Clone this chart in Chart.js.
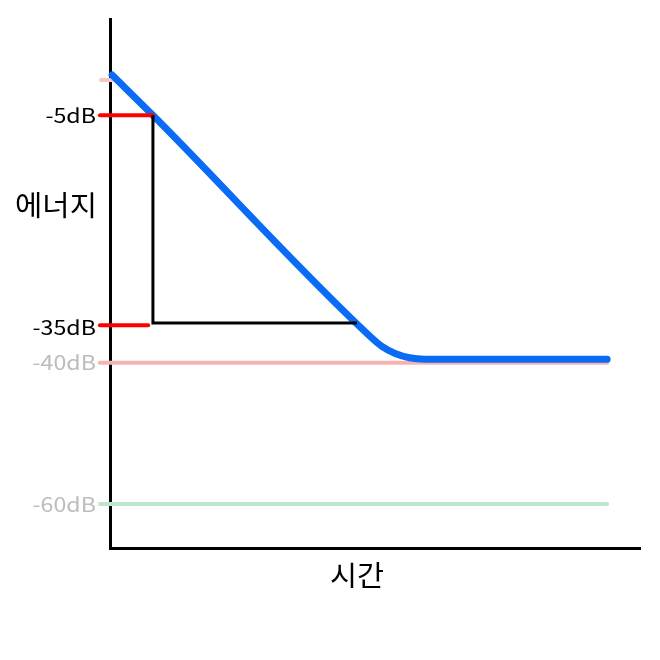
<!DOCTYPE html>
<html>
<head>
<meta charset="utf-8">
<script src="https://cdn.jsdelivr.net/npm/chart.js@4"></script>
<style>
html,body{margin:0;padding:0;background:#fff;}
#wrap{width:660px;height:660px;}
</style>
</head>
<body>
<div id="wrap"><canvas id="c" width="660" height="660"></canvas></div>
<script>
// Decay curve: time (arbitrary units) and energy (dB)
const decayTime = [0.4, 8.1, 49.1, 51.3, 53.8, 56.5, 59.4, 93.8];
const decayDb   = [0.7, -5.0, -36.3, -37.7, -38.7, -39.3, -39.5, -39.5];
// Reference levels
const tickValues = [-5, -35, -40, -60];
const tickLabels = ['-5dB', '-35dB', '-40dB', '-60dB'];
const tickColors = ['#000000', '#000000', '#bdbdbd', '#bdbdbd'];
// Triangle (T30 construction)
const triTime = [8.1, 8.1, 46.6];
const triDb = [-5, -34.4, -34.4];
// Marker line extents
const redTopTime = [-1.9, 8.1];
const redBottomTime = [-1.9, 7.2];
const zeroMarkTime = [-1.7, 0.4];
const refLineTime = [-1.9, 93.8];
const axisTitleY = '에너지';
const axisTitleX = '시간';

const pts = (xs, ys) => xs.map((x, i) => ({x, y: Array.isArray(ys) ? ys[i] : ys}));
const FONT = '"Noto Sans CJK KR", "Noto Sans", sans-serif';

const labelsPlugin = {
  id: 'labelsPlugin',
  afterDraw(chart) {
    const {ctx, chartArea} = chart;
    const ys = chart.scales.y;
    ctx.save();
    ctx.textBaseline = 'middle';
    // tick labels
    ctx.font = '20px ' + FONT;
    ctx.textAlign = 'right';
    tickValues.forEach((v, i) => {
      ctx.save();
      ctx.translate(chartArea.left - 14, ys.getPixelForValue(v));
      ctx.scale(1.16, 1);
      ctx.fillStyle = tickColors[i];
      ctx.fillText(tickLabels[i], 0, 0);
      ctx.restore();
    });
    // axis titles
    ctx.fillStyle = '#000';
    ctx.font = '28px ' + FONT;
    ctx.textAlign = 'center';
    ctx.save();
    ctx.translate(56, ys.getPixelForValue(-17.7));
    ctx.scale(1.06, 1);
    ctx.fillText(axisTitleY, 0, 0);
    ctx.restore();
    ctx.save();
    ctx.translate(chartArea.left + 247, chartArea.bottom + 27);
    ctx.scale(1.05, 1);
    ctx.fillText(axisTitleX, 0, 0);
    ctx.restore();
    ctx.restore();
  }
};

new Chart(document.getElementById('c'), {
  type: 'scatter',
  data: {
    datasets: [
      {data: pts(triTime, triDb), showLine: true, borderColor: '#000', borderWidth: 3, pointRadius: 0, clip: false},
      {data: pts(redTopTime, -5), showLine: true, borderColor: '#ff0000', borderWidth: 4, borderCapStyle: 'round', pointRadius: 0, clip: false},
      {data: pts(redBottomTime, -34.7), showLine: true, borderColor: '#ff0000', borderWidth: 4, borderCapStyle: 'round', pointRadius: 0, clip: false},
      {data: pts(decayTime, decayDb), showLine: true, borderColor: '#0a6cf5', borderWidth: 7, borderCapStyle: 'round', pointRadius: 0, cubicInterpolationMode: 'monotone', clip: false},
      {data: pts(zeroMarkTime, 0), showLine: true, borderColor: '#f8c6c6', borderWidth: 4, borderCapStyle: 'round', pointRadius: 0, clip: false},
      {data: pts(refLineTime, -40), showLine: true, borderColor: '#f7b2b2', borderWidth: 4, borderCapStyle: 'round', pointRadius: 0, clip: false},
      {data: pts(refLineTime, -60), showLine: true, borderColor: '#bfe5d0', borderWidth: 4, borderCapStyle: 'round', pointRadius: 0, clip: false}
    ]
  },
  options: {
    responsive: false,
    animation: false,
    devicePixelRatio: 1,
    layout: {padding: {top: 19, right: 20, left: 0, bottom: 0}},
    plugins: {legend: {display: false}, tooltip: {enabled: false}},
    scales: {
      x: {
        type: 'linear', min: 0, max: 100, z: 1,
        grid: {display: false, drawTicks: false},
        border: {display: true, color: '#000', width: 3},
        ticks: {display: false},
        afterFit(s) { s.height = 112; }
      },
      y: {
        type: 'linear', min: -66.22, max: 8.63, z: 1,
        grid: {display: false, drawTicks: false},
        border: {display: true, color: '#000', width: 3},
        ticks: {display: false},
        afterFit(s) { s.width = 110; }
      }
    }
  },
  plugins: [labelsPlugin]
});
</script>
</body>
</html>
